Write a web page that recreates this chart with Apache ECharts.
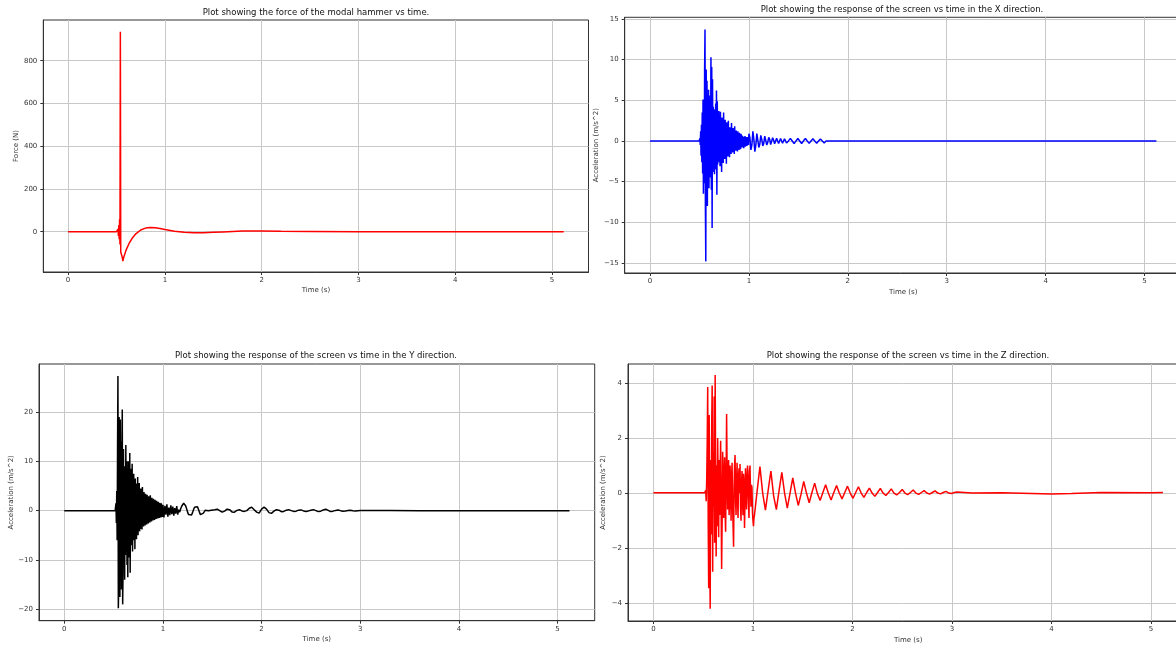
<!DOCTYPE html>
<html>
<head>
<meta charset="utf-8">
<script src="https://cdn.jsdelivr.net/npm/echarts@6/dist/echarts.min.js"></script>
<style>
  html, body { margin: 0; padding: 0; background: #fff; }
  #wrap { position: relative; width: 1176px; height: 648px; background: #fff; }
  .layer { position: absolute; left: 0; top: 0; width: 1176px; height: 648px; }
  #chartSoft { filter: blur(0.6px); }
</style>
</head>
<body>
<div id="wrap">
  <div id="chartMain" class="layer"></div>
  <div id="chartSoft" class="layer"></div>
</div>
<script>
// ---- Measured signals (time in s) ----
const timeTicks = [0, 1, 2, 3, 4, 5];
const tEnd = 5.12;

// Modal hammer force (N), [t, F]
const forcePoints = [
  [0, 0], [0.500, 0], [0.508, 2], [0.512, -8], [0.516, 12], [0.520, -20], [0.524, 30],
  [0.528, -35], [0.532, 58], [0.536, -60], [0.540, 935], [0.544, -95], [0.548, -100],
  [0.552, -98], [0.556, -103], [0.560, -120], [0.566, -138], [0.572, -125], [0.580, -112],
  [0.600, -85], [0.630, -55], [0.660, -32], [0.700, -10], [0.750, 8], [0.800, 17],
  [0.850, 20], [0.900, 19], [0.950, 15], [1.00, 10], [1.10, 2], [1.20, -3], [1.30, -5],
  [1.40, -5], [1.50, -3], [1.60, -1], [1.70, 1], [1.80, 3], [1.90, 3], [2.00, 3],
  [2.20, 2], [2.50, 1], [3.00, 0], [4.00, 0], [5.12, 0]
];
const forceTicks = [0, 200, 400, 600, 800];

// X acceleration (m/s^2): impact burst sampled every 4 ms from 0.500 s
const xBurst = [
  0, 0.3, -0.5, 1.2, -1.8, 2.0, -2.6, 3.5, -4.0, 5.1, -6.5, 4.8, -5.2, 8.7, 13.7, -8.1,
  -14.8, 8.8, -6.2, 7.4, -8.0, 5.5, -4.6, 6.3, -5.8, 4.4, -3.9, 5.6, -4.5, 10.3, -6.0, 9.1,
  -10.7, 7.6, -3.8, 4.2, -3.3, 3.9, -4.1, 3.0, -2.8, 4.6, -3.5, 6.2, -6.6, 4.9, -2.9, 3.1,
  -2.4, 3.7, -2.6, 2.2, -3.1, 3.6, -2.0, 2.5, -3.8, 2.9, -1.9, 2.3, -2.7, 3.5, -1.6, 1.8,
  -2.2, 2.6, -1.4, 1.9, -2.8, 2.3, -1.2, 1.5, -1.9, 2.5, -1.1, 1.3, -2.0, 1.7, -1.0, 1.2,
  -1.6, 2.2, -0.9, 1.1, -1.4, 1.6, -1.1, 0.8, -1.6, 1.8, -0.8, 0.9, -1.2, 1.3, -0.9, 0.7,
  -1.3, 1.2, -0.6, 0.8, -1.1, 1.0, -0.7, 0.6, -1.0, 0.9, -0.5, 0.7, -0.8, 0.6, -0.6, 0.5,
  -0.9, 0.5, -0.4, 0.6, -0.7, 0.4, -0.5, 0.5, -0.6, 0.3, -0.4, 0.5, -0.5
];
// X ringing, every 10 ms from 1.00 s
const xRing = [
  0.9, 0.4, -1.1, -0.5, 1.2, 0.2, -1.3, -0.5, 0.9, 0.1, -0.8, -0.4, 0.7, 0.2, -0.6, -0.3,
  0.6, 0.1, -0.5, -0.2, 0.45, 0.2, -0.45, -0.3, 0.4, 0.1, -0.35, -0.2, 0.35, 0.15, -0.3,
  -0.2, 0.3, 0.1, -0.28, -0.2, 0.28, 0.1, -0.25, -0.1
];
// X decay tail, every 19 ms from 1.40 s
const xTail = [
  0.01, 0.32, 0.0, -0.32, 0.01, 0.31, 0.0, -0.3, 0.02, 0.3, 0.0, -0.29, 0.01, 0.28,
  0.0, -0.27, 0.01, 0.26, 0.0, -0.25, 0.01, 0.24, 0.0, -0.23, 0.01, 0.22, 0.0, -0.21,
  0.01, 0.2, 0.0, -0.19, 0.01, 0.18, 0.0, -0.17, 0.01, 0.16, 0.0, -0.15, 0.01, 0.15,
  0.0, -0.14, 0.01, 0.13, 0.0, -0.12, 0.01, 0.12, 0.0, -0.11, 0.01, 0.11, 0.0, -0.1,
  0.01, 0.1, 0.0, -0.09, 0.01, 0.09, 0.0, -0.08, 0.01, 0.08, 0.0, -0.07, 0.01, 0.07,
  0.0, -0.06, 0.01, 0.06, 0.0, -0.06, 0.01, 0.05, 0.0, -0.05, 0.01, 0.05, 0.0, -0.04
];
const xTicks = [-15, -10, -5, 0, 5, 10, 15];

// Y acceleration (m/s^2): burst every 4 ms from 0.520 s
const yBurst = [
  0, 1.5, -2.5, 4, -6, 12, 27.3, -19.8, -15, 19, 8, -17.5, 18.5, -11, 14, -16, 11, 20.5,
  -19, -12, 12.5, -10, 9, -14, 8.5, -9, 13.3, -7, 10, -11, 8, -13.5, 10, -8, 7, -9.5,
  11.7, -12.6, 6.5, -7, 8.5, -6, 9.5, -8.3, 6, -5.5, 7.5, -6, 5, -7.8, 6.5, -4.5, 5.5,
  -5.8, 4.5, -4, 6.8, -5, 4, -3.5, 5.6, -4.2, 3.5, -3.7, 4.5, -3, 3.2, -3.8, 4.8, -2.6,
  3, -3.2, 3.8, -2.4, 2.8, -3, 3.4, -2.2, 2.5, -2.8, 3.2, -2, 2.2, -2.6, 2.9, -1.8, 2,
  -2.4, 3.1, -1.7, 1.8, -2.2, 2.6, -1.5, 1.7, -2, 2.4, -1.4, 1.6, -1.9, 2.2, -1.3, 1.5,
  -1.7, 2, -1.2, 1.4, -1.6, 1.8, -1.1, 1.3, -1.5, 1.6, -1, 1.2, -1.4, 1.5, -0.9, 1.1, -1.3
];
// Y ringing, every 10 ms from 1.00 s
const yRing = [
  1.2, -1.4, 1.0, -0.8, 1.3, -1.2, 0.6, -0.9, 1.1, -0.7, 0.8, -1.0, 0.5, -0.6, 0.9, -0.8,
  0.2, -0.3, 0.4, 0.9, 1.3, 1.5, 1.4, 1.0, 0.4, -0.3, -0.8, -1.1, -1.2, -0.9, -0.4, 0.2,
  0.7, 1.0, 1.1, 0.8, 0.3, -0.3, -0.8, -1.0, -0.9, -0.5, -0.1, 0.1, 0.0, -0.1, 0.0, 0.1,
  0.15, 0.1
];
// Y decay tail, every 25 ms from 1.50 s
const yTail = [
  0.0, 0.2, 0.3, 0.0, -0.3, -0.1, 0.3, 0.2, -0.25, -0.3, 0.05, 0.2, -0.05, -0.15, 0.0,
  0.5, 0.7, 0.2, -0.3, -0.5, 0.3, 0.7, 0.3, -0.4, -0.55, -0.1, 0.2, 0.1, -0.2, -0.15,
  0.1, 0.2, 0.0, -0.15, -0.1, 0.1, 0.15, -0.05, -0.15, -0.05, 0.1, 0.2, 0.0, -0.2, -0.1,
  0.15, 0.3, 0.05, -0.2, -0.1, 0.05, 0.15, 0.0, -0.1, -0.05, 0.05, 0.1, 0.0, -0.08, 0.0,
  0.05
];
const yTicks = [-20, -10, 0, 10, 20];

// Z acceleration (m/s^2): burst every 5 ms from 0.520 s
const zBurst = [
  0.0, 0.1, -0.3, 0.5, 1.8, 3.85, -1.0, -3.45, 2.83, -2.0, -4.2, 1.2, -1.5, 2.4, 3.9,
  -2.85, 1.5, -0.5, 3.5, -1.8, 4.28, 0.5, -2.3, 1.0, -1.2, 2.0, 0.3, -1.6, 1.2, -0.8,
  0.6, 1.9, -0.5, -2.75, -1.0, 1.5, 0.8, -0.9, 0.3, 1.3, -0.7, -1.4, 0.5, 2.87, 0.8,
  -0.6, 0.2, 1.2, -0.8, -0.3, 1.0, 0.1, -1.0, 0.6, 1.1, -0.4, -1.2, -1.95, 0.2, 1.0,
  1.38, -0.3, -0.8, 0.4, 1.1, -0.2, -0.9, 0.6, 0.9, 0.0, 1.05, -0.5, -1.0, 0.3, 0.8,
  -0.3, -0.8, 0.7, 0.4, -1.27, -0.2, 0.9, 0.5, -0.6, 0.2, 1.0, 0.6, -0.4, -0.9, 0.8,
  1.0, 0.1, -0.5, 0.3, 0.2, -0.7, -1.0, -1.2, -0.9
];
// Z ringing, every 27.5 ms from 1.015 s
const zRing = [
  -0.8, 0.1, 0.96, 0.0, -0.62, 0.1, 0.8, -0.1, -0.6, 0.1, 0.75, 0.0, -0.55, 0.0, 0.55, 0.0,
  -0.45, -0.05, 0.42, 0.0, -0.35, 0.02, 0.36, -0.02, -0.27, 0.02, 0.3, 0.0, -0.25, 0.02,
  0.27, 0.0, -0.21, 0.02, 0.25, 0.0, -0.19, 0.02, 0.23, 0.0, -0.16, 0.02, 0.18, 0.0, -0.12,
  0.02, 0.17, 0.0, -0.09, 0.02, 0.15, 0.0, -0.07, 0.02, 0.13, 0.0, -0.06, 0.02, 0.11, 0.0,
  -0.05, 0.02, 0.09, 0.0, -0.04, 0.02, 0.08, 0.0, -0.03, 0.02, 0.06, 0.0, -0.02, 0.02, 0.04
];
const zLate = [[3.2, 0.0], [3.5, 0.01], [4.0, -0.03], [4.2, -0.02], [4.5, 0.02], [5.0, 0.01], [5.12, 0.02]];
const zTicks = [-4, -2, 0, 2, 4];

// Uniformly sampled block -> [t, value] pairs
function block(start, step, values) {
  return values.map((v, i) => [Math.round((start + i * step) * 10000) / 10000, v]);
}

const xData = [[0, 0], [0.496, 0]]
  .concat(block(0.500, 0.004, xBurst), block(1.00, 0.01, xRing), block(1.40, 0.019, xTail), [[3.1, 0.01], [tEnd, 0]]);
const yData = [[0, 0], [0.516, 0]]
  .concat(block(0.520, 0.004, yBurst), block(1.00, 0.01, yRing), block(1.50, 0.025, yTail), [[3.3, 0.03], [3.6, 0], [tEnd, 0]]);
const zData = [[0, 0.01], [0.515, 0.01]]
  .concat(block(0.520, 0.005, zBurst), block(1.015, 0.0275, zRing), zLate);

// ---- Layout of the four panels (pixels) ----
const FONT = 'DejaVu Sans';
const panels = [
  { grid: { left: 43.3, top: 20, width: 545.2, height: 252 }, ymin: -188.5, ymax: 990.4, ticks: forceTicks,
    yName: 'Force (N)', yGap: 23, xGap: 15, title: 'Plot showing the force of the modal hammer vs time.', tx: 316, ty: 12.5,
    data: forcePoints, color: '#ff0000' },
  { grid: { left: 624.7, top: 17.3, width: 557, height: 255.7 }, ymin: -16.23, ymax: 15.21, ticks: xTicks,
    yName: 'Acceleration (m/s^2)', yGap: 24, xGap: 15.5, title: 'Plot showing the response of the screen vs time in the X direction.', tx: 902, ty: 9.5,
    data: xData, color: '#0000ff' },
  { grid: { left: 39, top: 364, width: 555.7, height: 256.7 }, ymin: -22.31, ymax: 29.73, ticks: yTicks,
    yName: 'Acceleration (m/s^2)', yGap: 24, xGap: 14.5, title: 'Plot showing the response of the screen vs time in the Y direction.', tx: 316, ty: 356,
    data: yData, color: '#000000' },
  { grid: { left: 628, top: 364, width: 560.4, height: 257 }, ymin: -4.64, ymax: 4.68, ticks: zTicks,
    yName: 'Acceleration (m/s^2)', yGap: 21, xGap: 15.5, title: 'Plot showing the response of the screen vs time in the Z direction.', tx: 908, ty: 356,
    data: zData, color: '#ff0000' }
];

const minus = v => String(v).replace('-', '\u2212');
const axisColor = '#333333';
const gridColor = '#c8c8c8';

function buildOption(list, bg) {
  return {
    animation: false,
    backgroundColor: bg,
    grid: list.map(p => Object.assign({
      show: true, borderColor: axisColor, borderWidth: 1, backgroundColor: 'transparent',
      containLabel: false, outerBoundsMode: 'none'
    }, p.grid)),
    xAxis: list.map((p, i) => ({
      type: 'value', gridIndex: i, min: -0.256, max: 5.376,
      name: 'Time (s)', nameLocation: 'middle', nameGap: p.xGap,
      nameTextStyle: { fontFamily: FONT, fontSize: 7, color: axisColor },
      axisLine: { show: true, onZero: false, lineStyle: { color: axisColor, width: 1 } },
      axisTick: { show: true, customValues: timeTicks, length: 3, lineStyle: { color: axisColor } },
      axisLabel: { customValues: timeTicks, fontFamily: FONT, fontSize: 7, color: axisColor, margin: 5, formatter: minus },
      splitLine: { show: true, lineStyle: { color: gridColor, width: 1 } }
    })),
    yAxis: list.map((p, i) => ({
      type: 'value', gridIndex: i, min: p.ymin, max: p.ymax,
      name: p.yName, nameLocation: 'middle', nameGap: p.yGap, nameRotate: 90,
      nameTextStyle: { fontFamily: FONT, fontSize: 7, color: axisColor },
      axisLine: { show: true, onZero: false, lineStyle: { color: axisColor, width: 1 } },
      axisTick: { show: true, customValues: p.ticks, length: 3, lineStyle: { color: axisColor } },
      axisLabel: { customValues: p.ticks, fontFamily: FONT, fontSize: 7, color: axisColor, margin: 6, formatter: minus },
      splitLine: { show: true, lineStyle: { color: gridColor, width: 1 } }
    })),
    graphic: list.map(p => ({
      type: 'text', x: p.tx, y: p.ty, silent: true,
      style: { text: p.title, fontFamily: FONT, fontSize: 8.5, fill: '#111', textAlign: 'center', textVerticalAlign: 'middle' }
    })),
    series: list.map((p, i) => ({
      type: 'line', xAxisIndex: i, yAxisIndex: i, data: p.data,
      showSymbol: false, symbol: 'none', clip: true,
      lineStyle: { color: p.color, width: 1.5 }
    }))
  };
}

// The Y-direction panel is drawn on its own softened layer
const mainChart = echarts.init(document.getElementById('chartMain'), null, { renderer: 'canvas' });
mainChart.setOption(buildOption([panels[0], panels[1], panels[3]], '#ffffff'));
const softChart = echarts.init(document.getElementById('chartSoft'), null, { renderer: 'canvas' });
softChart.setOption(buildOption([panels[2]], 'transparent'));
</script>
</body>
</html>
